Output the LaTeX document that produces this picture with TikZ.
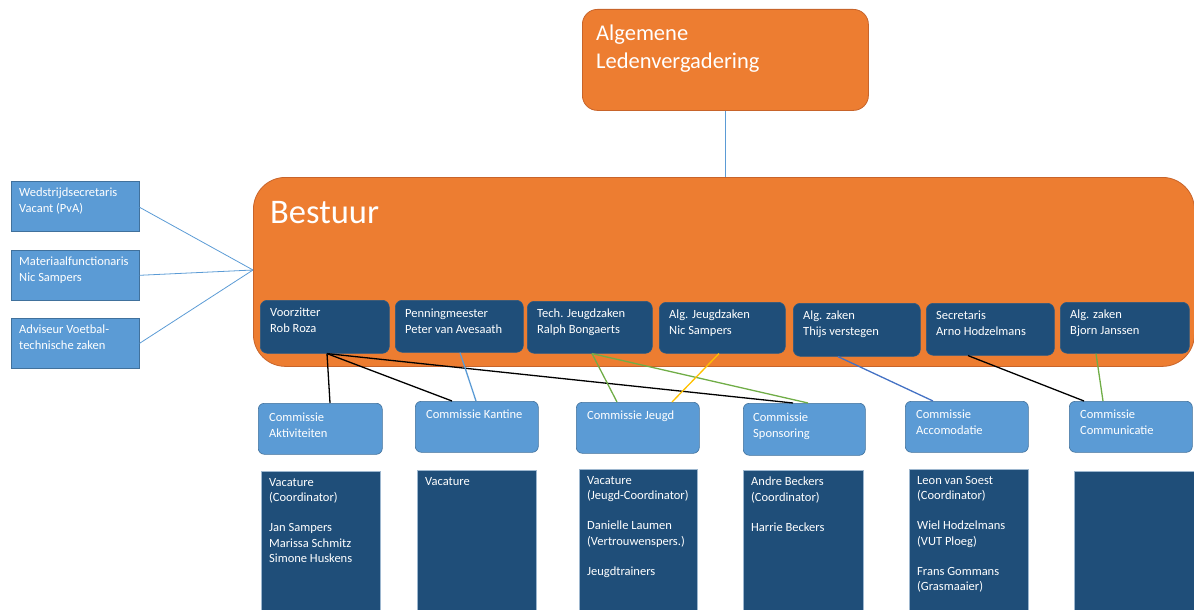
\documentclass[tikz,border=0pt]{standalone}
\usepackage{fontspec}
\setmainfont{Carlito}
\begin{document}
\begin{tikzpicture}[x=1pt,y=-1pt,
  orgbox/.style={fill=orgc,draw=orgd,line width=0.8pt,anchor=north west,inner sep=0pt},
  member/.style={fill=navy,draw=navyd,line width=0.6pt,rounded corners=7pt,anchor=north west,inner sep=0pt},
  comm/.style={fill=lblue,draw=lblued,line width=0.6pt,rounded corners=6pt,anchor=north west,inner sep=0pt},
  side/.style={fill=lblue,draw=lblued,line width=0.6pt,anchor=north west,inner sep=0pt},
  low/.style={fill=navy,draw=lowd,line width=0.6pt,anchor=north west,inner sep=0pt},
  txt/.style={text=white,anchor=north west,align=left,inner sep=0pt,font=\fontsize{12.5}{16}\selectfont},
  ltxt/.style={text=white,anchor=north west,align=left,inner sep=0pt,font=\fontsize{12.5}{15.2}\selectfont},
  conn/.style={line width=1.3pt}
]
\definecolor{orgc}{HTML}{ED7D31}
\definecolor{orgd}{HTML}{C8642A}
\definecolor{navy}{HTML}{1F4E79}
\definecolor{navyd}{HTML}{2A5A85}
\definecolor{lblue}{HTML}{5B9BD5}
\definecolor{lblued}{HTML}{41719C}
\definecolor{lowd}{HTML}{9DB7CF}
\definecolor{cblue}{HTML}{5B9BD5}
\definecolor{cdblue}{HTML}{4472C4}
\definecolor{cgreen}{HTML}{70AD47}
\definecolor{cyellow}{HTML}{FFC000}

\useasboundingbox (0,0) rectangle (1194,610);

% Top box
\node[orgbox,rounded corners=15pt,minimum width=286pt,minimum height=101pt] (alv) at (582,9) {};
\node[txt,font=\fontsize{22.5}{28}\selectfont] (alvt) at ([xshift=14pt,yshift=-16pt]alv.north west) {Algemene\\Ledenvergadering};

% Bestuur
\node[orgbox,rounded corners=32pt,minimum width=941pt,minimum height=189pt] (best) at (253,177) {};
\node[txt,font=\fontsize{34.5}{36}\selectfont] (bestt) at ([xshift=17pt,yshift=-24pt]best.north west) {Bestuur};
\draw[cblue,line width=1.4pt] (alv.south) -- (alv.south |- best.north);

% Side boxes
\node[side,minimum width=128pt,minimum height=50pt] (s1) at (11,181) {};
\node[side,minimum width=128pt,minimum height=50pt] (s2) at (11,250) {};
\node[side,minimum width=128pt,minimum height=50pt] (s3) at (11,318) {};
\node[ltxt] (s1t) at ([xshift=8pt,yshift=-7pt]s1.north west) {Wedstrijdsecretaris\\Vacant (PvA)};
\node[ltxt] (s2t) at ([xshift=8pt,yshift=-7pt]s2.north west) {Materiaalfunctionaris\\Nic Sampers};
\node[ltxt] (s3t) at ([xshift=8pt,yshift=-7pt]s3.north west) {Adviseur Voetbal-\\technische zaken};
\coordinate (hub) at (253,270);
\draw[cblue,line width=0.8pt] ([yshift=-1pt]s1.east) -- (hub);
\draw[cblue,line width=0.8pt] (s2.east) -- (hub);
\draw[cblue,line width=0.8pt] (s3.east) -- (hub);

% Member boxes
\node[member,minimum width=129pt,minimum height=53pt] (m1) at (260,300) {};
\node[member,minimum width=128pt,minimum height=52pt] (m2) at (395,300) {};
\node[member,minimum width=125pt,minimum height=52pt] (m3) at (527,301) {};
\node[member,minimum width=126pt,minimum height=51pt] (m4) at (659,302) {};
\node[member,minimum width=127pt,minimum height=53pt] (m5) at (793,303) {};
\node[member,minimum width=128pt,minimum height=52pt] (m6) at (926,303) {};
\node[member,minimum width=129pt,minimum height=51pt] (m7) at (1060,302) {};
\node[txt] (m1t) at ([xshift=10pt,yshift=-8pt]m1.north west) {Voorzitter\\Rob Roza};
\node[txt] (m2t) at ([xshift=10pt,yshift=-9pt]m2.north west) {Penningmeester\\Peter van Avesaath};
\node[txt] (m3t) at ([xshift=10pt,yshift=-8pt]m3.north west) {Tech. Jeugdzaken\\Ralph Bongaerts};
\node[txt] (m4t) at ([xshift=10pt,yshift=-8pt]m4.north west) {Alg. Jeugdzaken\\Nic Sampers};
\node[txt] (m5t) at ([xshift=10pt,yshift=-8pt]m5.north west) {Alg. zaken\\Thijs verstegen};
\node[txt] (m6t) at ([xshift=10pt,yshift=-8pt]m6.north west) {Secretaris\\Arno Hodzelmans};
\node[txt] (m7t) at ([xshift=10pt,yshift=-8pt]m7.north west) {Alg. zaken\\Bjorn Janssen};

% Commissie boxes
\node[comm,minimum width=124pt,minimum height=51pt] (c1) at (258,403) {};
\node[comm,minimum width=123pt,minimum height=51pt] (c2) at (415,401) {};
\node[comm,minimum width=123pt,minimum height=51pt] (c3) at (576,402) {};
\node[comm,minimum width=122pt,minimum height=52pt] (c4) at (743,403) {};
\node[comm,minimum width=123pt,minimum height=51pt] (c5) at (905,401) {};
\node[comm,minimum width=123pt,minimum height=51pt] (c6) at (1069,401) {};
\node[txt] (c1t) at ([xshift=11pt,yshift=-10pt]c1.north west) {Commissie\\Aktiviteiten};
\node[txt] (c2t) at ([xshift=11pt,yshift=-9pt]c2.north west) {Commissie Kantine};
\node[txt] (c3t) at ([xshift=11pt,yshift=-9pt]c3.north west) {Commissie Jeugd};
\node[txt] (c4t) at ([xshift=10pt,yshift=-10pt]c4.north west) {Commissie\\Sponsoring};
\node[txt] (c5t) at ([xshift=11pt,yshift=-9pt]c5.north west) {Commissie\\Accomodatie};
\node[txt] (c6t) at ([xshift=11pt,yshift=-9pt]c6.north west) {Commissie\\Communicatie};

% Lower boxes
\node[low,minimum width=119pt,minimum height=150pt] (l1) at (261,471) {};
\node[low,minimum width=119pt,minimum height=150pt] (l2) at (417,470) {};
\node[low,minimum width=118pt,minimum height=150pt] (l3) at (579,469) {};
\node[low,minimum width=120pt,minimum height=150pt] (l4) at (743,470) {};
\node[low,minimum width=119pt,minimum height=150pt] (l5) at (909,469) {};
\node[low,minimum width=125pt,minimum height=150pt] (l6) at (1074,471) {};
\node[ltxt] (l1t) at ([xshift=8pt,yshift=-7pt]l1.north west) {Vacature\\(Coordinator)\\[15.2pt]Jan Sampers\\Marissa Schmitz\\Simone Huskens};
\node[ltxt] (l2t) at ([xshift=8pt,yshift=-7pt]l2.north west) {Vacature};
\node[ltxt] (l3t) at ([xshift=8pt,yshift=-7pt]l3.north west) {Vacature\\(Jeugd-Coordinator)\\[15.2pt]Danielle Laumen\\(Vertrouwenspers.)\\[15.2pt]Jeugdtrainers};
\node[ltxt] (l4t) at ([xshift=8pt,yshift=-7pt]l4.north west) {Andre Beckers\\(Coordinator)\\[15.2pt]Harrie Beckers};
\node[ltxt] (l5t) at ([xshift=8pt,yshift=-7pt]l5.north west) {Leon van Soest\\(Coordinator)\\[15.2pt]Wiel Hodzelmans\\(VUT Ploeg)\\[15.2pt]Frans Gommans\\(Grasmaaier)};

% Connectors
\coordinate (vz) at (m1.south -| 327,0);
\draw[conn,black] (vz) -- (c1.north -| 330,0);
\draw[conn,black] (vz) -- (c2.north -| 452,0);
\draw[conn,black] (vz) -- (c4.north -| 793,0);
\draw[conn,cblue] (m2.south -| 460,0) -- (c2.north -| 476,0);
\coordinate (tj) at (m3.south -| 592,0);
\draw[conn,cgreen] (tj) -- (c3.north -| 617,0);
\draw[conn,cgreen] (tj) -- (c4.north -| 808,0);
\draw[conn,cyellow] (m4.south -| 719,0) -- (c3.north -| 672,0);
\draw[conn,cdblue] (m5.south -| 838,0) -- (c5.north -| 933,0);
\draw[conn,black] (m6.south -| 968,0) -- (c6.north -| 1084,0);
\draw[conn,cgreen] (m7.south -| 1096,0) -- (c6.north -| 1103,0);
\end{tikzpicture}
\end{document}
